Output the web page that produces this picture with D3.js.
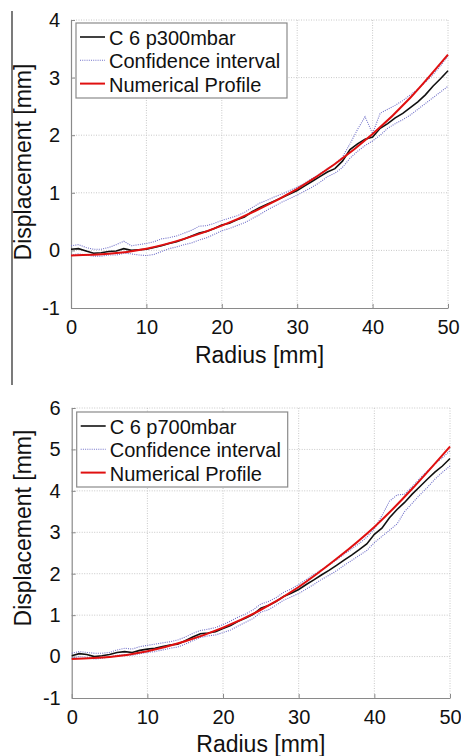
<!DOCTYPE html>
<html>
<head>
<meta charset="utf-8">
<script src="https://cdn.jsdelivr.net/npm/d3@7"></script>
<style>
  body { margin: 0; background: #fff; }
  svg { font-family: "Liberation Sans", Arial, sans-serif; }
</style>
</head>
<body>
<svg width="461" height="756"></svg>
<script>
// radius positions (mm) for measured profiles, and for the numerical profile
const radius = d3.range(0, 51);
const radiusNum = [0, 5, 10, 15, 20, 25, 30, 35, 40, 45, 50];
const xTicks = [0, 10, 20, 30, 40, 50];

// panel 1 : C 6 p300mbar
const meas300 = [0.02, 0.03, -0.01, -0.05, -0.04, -0.02, -0.01, 0.03, 0.0, 0.01,
  0.02, 0.05, 0.08, 0.12, 0.15, 0.2, 0.25, 0.3, 0.33, 0.38,
  0.44, 0.47, 0.53, 0.58, 0.67, 0.74, 0.8, 0.86, 0.92, 0.98,
  1.04, 1.12, 1.2, 1.28, 1.36, 1.42, 1.55, 1.75, 1.85, 1.93,
  1.97, 2.12, 2.2, 2.3, 2.38, 2.48, 2.58, 2.7, 2.85, 2.98, 3.12];
const upper300 = [0.08, 0.1, 0.05, 0.02, 0.02, 0.05, 0.1, 0.16, 0.08, 0.1,
  0.12, 0.15, 0.2, 0.22, 0.25, 0.3, 0.35, 0.42, 0.43, 0.47,
  0.52, 0.56, 0.6, 0.66, 0.74, 0.82, 0.87, 0.93, 0.98, 1.04,
  1.1, 1.17, 1.25, 1.33, 1.42, 1.5, 1.62, 1.85, 2.1, 2.32,
  2.03, 2.38, 2.45, 2.52, 2.6, 2.7, 2.8, 2.92, 3.05, 3.2, 3.38];
const lower300 = [-0.08, -0.06, -0.08, -0.1, -0.1, -0.08, -0.08, -0.05, -0.06, -0.08,
  -0.09, -0.07, -0.02, 0.03, 0.06, 0.1, 0.13, 0.18, 0.22, 0.28,
  0.34, 0.38, 0.43, 0.48, 0.55, 0.62, 0.7, 0.77, 0.84, 0.9,
  0.96, 1.03, 1.1, 1.18, 1.28, 1.34, 1.44, 1.6, 1.72, 1.82,
  1.9, 2.0, 2.12, 2.2, 2.27, 2.35, 2.45, 2.55, 2.65, 2.75, 2.85];
const num300 = [-0.09, -0.06, 0.03, 0.2, 0.43, 0.72, 1.07, 1.5, 2.02, 2.65, 3.4];

// panel 2 : C 6 p700mbar
const meas700 = [0.02, 0.07, 0.05, 0.0, 0.02, 0.05, 0.1, 0.12, 0.1, 0.15,
  0.18, 0.2, 0.24, 0.28, 0.3, 0.38, 0.47, 0.55, 0.57, 0.6,
  0.68, 0.75, 0.85, 0.93, 1.02, 1.17, 1.23, 1.33, 1.45, 1.53,
  1.62, 1.74, 1.85, 1.97, 2.08, 2.2, 2.33, 2.45, 2.58, 2.72,
  2.95, 3.1, 3.35, 3.55, 3.72, 3.92, 4.1, 4.28, 4.45, 4.6, 4.78];
const upper700 = [0.08, 0.12, 0.1, 0.08, 0.08, 0.1, 0.16, 0.2, 0.18, 0.24,
  0.27, 0.3, 0.33, 0.36, 0.4, 0.47, 0.56, 0.63, 0.66, 0.7,
  0.77, 0.86, 0.95, 1.03, 1.13, 1.27, 1.33, 1.42, 1.55, 1.63,
  1.74, 1.86, 1.98, 2.1, 2.21, 2.33, 2.47, 2.6, 2.73, 2.88,
  3.08, 3.4, 3.75, 3.9, 3.92, 4.1, 4.3, 4.48, 4.65, 4.8, 4.97];
const lower700 = [-0.04, 0.0, -0.02, -0.06, -0.04, -0.01, 0.03, 0.05, 0.03, 0.07,
  0.1, 0.12, 0.16, 0.2, 0.23, 0.3, 0.38, 0.46, 0.5, 0.52,
  0.58, 0.64, 0.74, 0.83, 0.92, 1.07, 1.13, 1.24, 1.36, 1.44,
  1.52, 1.63, 1.74, 1.86, 1.96, 2.07, 2.2, 2.32, 2.44, 2.56,
  2.75, 2.9, 3.05, 3.2, 3.5, 3.7, 3.9, 4.08, 4.28, 4.45, 4.6];
const num700 = [-0.06, -0.01, 0.13, 0.37, 0.7, 1.13, 1.68, 2.36, 3.13, 4.05, 5.07];

const legendLabels = ["Confidence interval", "Numerical Profile"];

const svg = d3.select("svg");

// stray frame line at the left of the figure
svg.append("line")
  .attr("x1", 12).attr("x2", 12).attr("y1", 11).attr("y2", 385)
  .attr("stroke", "#333").attr("stroke-width", 1.3);

function drawPanel(p) {
  const x = d3.scaleLinear().domain([0, 50]).range([p.left, p.right]);
  const y = d3.scaleLinear().domain([-1, p.ymax]).range([p.bottom, p.top]);
  const yTicks = d3.range(-1, p.ymax + 1);
  const g = svg.append("g");

  // dotted grid (also makes the top/right border)
  g.selectAll(".gx").data(xTicks.slice(1)).enter().append("line")
    .attr("x1", d => x(d)).attr("x2", d => x(d))
    .attr("y1", p.top).attr("y2", p.bottom)
    .attr("stroke", "#c8c8c8").attr("stroke-dasharray", "1,1.5");
  g.selectAll(".gy").data(yTicks.slice(1)).enter().append("line")
    .attr("x1", p.left).attr("x2", p.right)
    .attr("y1", d => y(d)).attr("y2", d => y(d))
    .attr("stroke", "#c8c8c8").attr("stroke-dasharray", "1,1.5");

  // axes (plain hyphen for negatives, like the original)
  const fmt = d => String(d);
  const xAxis = g.append("g").attr("transform", `translate(0,${p.bottom})`)
    .call(d3.axisBottom(x).tickValues(xTicks).tickFormat(fmt)
      .tickSizeInner(-4).tickSizeOuter(0));
  const yAxis = g.append("g").attr("transform", `translate(${p.left},0)`)
    .call(d3.axisLeft(y).tickValues(yTicks).tickFormat(fmt)
      .tickSizeInner(-4).tickSizeOuter(0).tickPadding(11));
  [xAxis, yAxis].forEach(a => {
    a.attr("font-size", null).attr("font-family", null);
    a.select(".domain").attr("stroke", "#8a8a8a").attr("stroke-width", 1.2);
    a.selectAll(".tick line").attr("stroke", "#8a8a8a");
    a.selectAll("text").attr("fill", "#111").style("font-size", "20px");
  });
  xAxis.selectAll("text").attr("dy", null).attr("y", p.xLabelY - p.bottom);

  // titles
  g.append("text").attr("x", (p.left + p.right) / 2).attr("y", p.xTitleY)
    .attr("text-anchor", "middle").style("font-size", "23px").attr("fill", "#111")
    .text("Radius [mm]");
  g.append("text").attr("transform", `translate(31,${p.yTitleC}) rotate(-90)`)
    .attr("text-anchor", "middle").style("font-size", "23px").attr("fill", "#111")
    .text("Displacement [mm]");

  const line = d3.line().x(d => x(d[0])).y(d => y(d[1]));
  const smooth = d3.line().curve(d3.curveNatural).x(d => x(d[0])).y(d => y(d[1]));

  [p.upper, p.lower].forEach(s => {
    g.append("path").datum(radius.map((r, i) => [r, s[i]]))
      .attr("d", line).attr("fill", "none")
      .attr("stroke", "#6f6fc8").attr("stroke-width", 1.1).attr("stroke-dasharray", "1,1.2");
  });
  g.append("path").datum(radius.map((r, i) => [r, p.meas[i]]))
    .attr("d", line).attr("fill", "none").attr("stroke", "#111").attr("stroke-width", 1.6);
  g.append("path").datum(radiusNum.map((r, i) => [r, p.num[i]]))
    .attr("d", smooth).attr("fill", "none").attr("stroke", "#e01010").attr("stroke-width", 2);

  // legend
  const lg = g.append("g");
  lg.append("rect").attr("x", p.left + 5).attr("y", p.legTop)
    .attr("width", 211).attr("height", 75)
    .attr("fill", "#fff").attr("stroke", "#8a8a8a").attr("stroke-width", 1.2);
  const items = [
    { label: p.name, stroke: "#111", dash: null, w: 1.6 },
    { label: legendLabels[0], stroke: "#6f6fc8", dash: "1,1.2", w: 1.1 },
    { label: legendLabels[1], stroke: "#e01010", dash: null, w: 2 }
  ];
  items.forEach((it, i) => {
    const by = p.legTop + 22 + i * 23.3;
    lg.append("line").attr("x1", p.left + 9).attr("x2", p.left + 34)
      .attr("y1", by - 8).attr("y2", by - 8)
      .attr("stroke", it.stroke).attr("stroke-width", it.w)
      .attr("stroke-dasharray", it.dash);
    lg.append("text").attr("x", p.left + 38).attr("y", by)
      .style("font-size", "20px").attr("fill", "#111").text(it.label);
  });
}

drawPanel({ name: "C 6 p300mbar", ymax: 4, left: 71, right: 448, top: 20, bottom: 308,
  xLabelY: 334, xTitleY: 363, yTitleC: 162, legTop: 23,
  meas: meas300, upper: upper300, lower: lower300, num: num300 });
drawPanel({ name: "C 6 p700mbar", ymax: 6, left: 71.7, right: 450, top: 408, bottom: 698,
  xLabelY: 724, xTitleY: 752, yTitleC: 528, legTop: 412,
  meas: meas700, upper: upper700, lower: lower700, num: num700 });
</script>
</body>
</html>
